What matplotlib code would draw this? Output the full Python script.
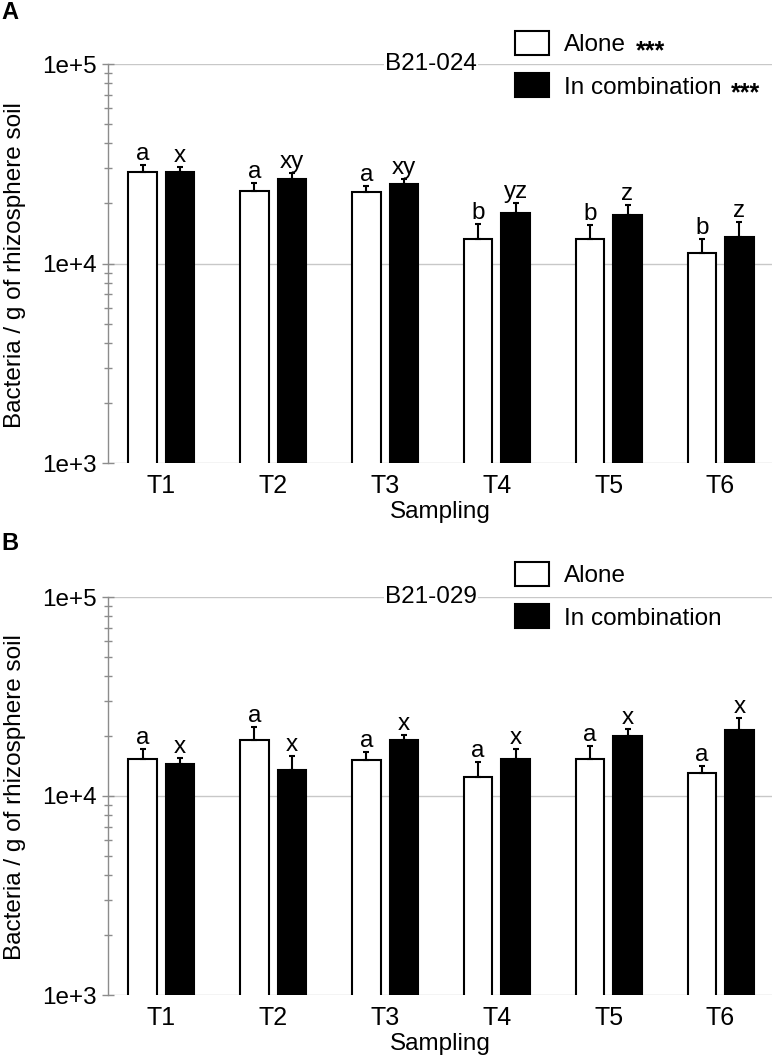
import numpy as np
import matplotlib
matplotlib.use('Agg')
import matplotlib.pyplot as plt
from matplotlib import ticker

plt.rcParams['font.family'] = ['Liberation Sans', 'DejaVu Sans']

samplings = ['T1', 'T2', 'T3', 'T4', 'T5', 'T6']

# Panel A - strain B21-024
a_alone = [28900, 23100, 22700, 13300, 13300, 11350]
a_alone_err = [2100, 2300, 1900, 2500, 2300, 1950]
a_comb = [28700, 26600, 25100, 17900, 17600, 13500]
a_comb_err = [1700, 1800, 1400, 2200, 2000, 2600]
a_alone_letters = ['a', 'a', 'a', 'b', 'b', 'b']
a_comb_letters = ['x', 'xy', 'xy', 'yz', 'z', 'z']

# Panel B - strain B21-029
b_alone = [15300, 19100, 15200, 12400, 15300, 13000]
b_alone_err = [2000, 3000, 1450, 2350, 2550, 1200]
b_comb = [14450, 13550, 19050, 15400, 19950, 21450]
b_comb_err = [1150, 2350, 1200, 1800, 1650, 3100]
b_alone_letters = ['a', 'a', 'a', 'a', 'a', 'a']
b_comb_letters = ['x', 'x', 'x', 'x', 'x', 'x']

W, H = 777, 1058
fig = plt.figure(figsize=(W / 100, H / 100), dpi=100)

grey = '#8c8c8c'
bar_w = 0.255
off = 0.168
x = np.arange(len(samplings))


def draw_panel(ax, alone, alone_err, comb, comb_err, let1, let2, strain, stars, leg_top):
    ax.set_yscale('log')
    ax.bar(x - off, alone, bar_w, color='white', edgecolor='black', linewidth=1.5,
           label='Alone', zorder=2)
    ax.bar(x + off, comb, bar_w, color='black', edgecolor='black', linewidth=1.5,
           label='In combination', zorder=2)
    ax.errorbar(x - off, alone, yerr=[np.zeros(len(x)), alone_err], fmt='none',
                ecolor='black', elinewidth=1.5, capsize=2, capthick=1.5, zorder=3)
    ax.errorbar(x + off, comb, yerr=[np.zeros(len(x)), comb_err], fmt='none',
                ecolor='black', elinewidth=1.5, capsize=2, capthick=1.5, zorder=3)

    # significance letters above the error bars
    for xi, v, e, t in zip(x - off, alone, alone_err, let1):
        ax.annotate(t, (xi, v + e), xytext=(0, 5), textcoords='offset pixels',
                    ha='center', va='baseline', fontsize=17.5)
    for xi, v, e, t in zip(x + off, comb, comb_err, let2):
        ax.annotate(t, (xi, v + e), xytext=(0, 5), textcoords='offset pixels',
                    ha='center', va='baseline', fontsize=17.5)

    ax.set_ylim(1e3, 1e5)
    ax.set_xlim(-0.478, 5.46)
    ax.set_xticks(x)
    ax.set_xticklabels(samplings, fontsize=18)
    ax.tick_params(axis='x', length=0, pad=8)
    ax.yaxis.set_major_locator(ticker.LogLocator(base=10, numticks=5))
    ax.yaxis.set_minor_locator(ticker.LogLocator(base=10, subs=np.arange(2, 10), numticks=20))
    ax.yaxis.set_major_formatter(ticker.FuncFormatter(lambda v, p: '1e+%d' % round(np.log10(v))))
    ax.yaxis.set_minor_formatter(ticker.NullFormatter())
    ax.tick_params(axis='y', which='major', direction='inout', length=8, width=1,
                   color=grey, labelsize=17.5, pad=4)
    ax.tick_params(axis='y', which='minor', direction='inout', length=6, width=1, color=grey)

    for s in ['top', 'right', 'bottom']:
        ax.spines[s].set_visible(False)
    ax.spines['left'].set_color(grey)
    ax.spines['left'].set_linewidth(1)
    ax.yaxis.grid(True, which='major', color='#c8c8c8', linewidth=1)
    ax.set_axisbelow(True)

    ax.set_xlabel('Sampling', fontsize=17.5, labelpad=2)

    ax.text(2.41, 1e5, strain, ha='center', va='center', fontsize=17.5, zorder=4,
            bbox=dict(facecolor='white', edgecolor='none', pad=1))

    leg = ax.legend(loc='upper left', bbox_to_anchor=(515 / W, 1 - leg_top / H),
                    bbox_transform=fig.transFigure, frameon=False, fontsize=17.5,
                    handlelength=1.4, handleheight=1.15, handletextpad=0.6,
                    labelspacing=0.7, borderpad=0, borderaxespad=0)
    if stars:
        for t in leg.get_texts():
            ax.annotate('***', xy=(1, 0), xycoords=t, xytext=(10, -7),
                        textcoords='offset pixels', ha='left', va='bottom',
                        fontsize=18, fontweight='bold', annotation_clip=False)
    return leg


axA = fig.add_axes([108 / W, 1 - 463 / H, (772 - 108) / W, (463 - 64) / H])
axB = fig.add_axes([108 / W, 1 - 995 / H, (772 - 108) / W, (995 - 597) / H])

draw_panel(axA, a_alone, a_alone_err, a_comb, a_comb_err, a_alone_letters, a_comb_letters,
           'B21-024', True, 31)
draw_panel(axB, b_alone, b_alone_err, b_comb, b_comb_err, b_alone_letters, b_comb_letters,
           'B21-029', False, 562)

ylab = 'Bacteria / g of rhizosphere soil'
fig.text(15 / W, 1 - 265 / H, ylab, rotation=90, ha='center', va='center', fontsize=17.5)
fig.text(15 / W, 1 - 797 / H, ylab, rotation=90, ha='center', va='center', fontsize=17.5)

fig.text(1 / W, 1 - 1 / H, 'A', fontsize=17, fontweight='bold', ha='left', va='top')
fig.text(1 / W, 1 - 532 / H, 'B', fontsize=17, fontweight='bold', ha='left', va='top')

fig.canvas.draw()
fig.savefig('out.png', dpi=100)
